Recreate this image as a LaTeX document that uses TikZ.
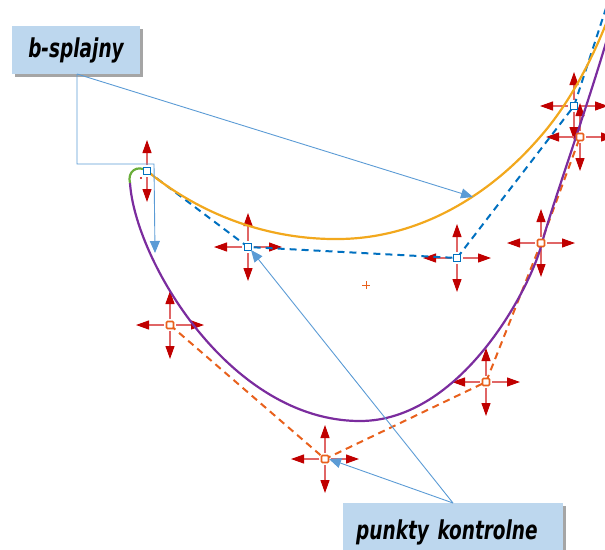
\documentclass[tikz,border=0pt]{standalone}
\usepackage{fontspec}
\newfontfamily\labfont[FakeStretch=0.79]{DejaVu Sans Condensed Bold Oblique}
\usetikzlibrary{calc,shadows,arrows.meta}
\definecolor{boxfill}{HTML}{BDD7EE}
\definecolor{conn}{HTML}{5B9BD5}
\definecolor{curvA}{HTML}{F2A81D}
\definecolor{curvB}{HTML}{7B2C9E}
\definecolor{curvG}{HTML}{6AAE3A}
\definecolor{polyA}{HTML}{0070C0}
\definecolor{polyB}{HTML}{E8601C}
\definecolor{hred}{HTML}{C00000}
\definecolor{hshaft}{HTML}{E06666}
\tikzset{
  lbox/.style={fill=boxfill, inner sep=0pt, font=\labfont\fontsize{26}{29}\selectfont,
    drop shadow={shadow xshift=3pt, shadow yshift=-3pt, fill=black!70, opacity=.5}},
  connline/.style={conn, line width=0.9pt},
  conntip/.style={connline, -{Triangle[length=12pt,width=10pt]}},
  shaft/.style={hshaft, line width=1.1pt, -{Triangle[length=13pt,width=9pt,color=hred]}},
  bpt/.style={draw=polyA, fill=white, line width=1.6pt, minimum size=7pt, inner sep=0pt},
  opt/.style={draw=polyB, fill=white, line width=1.6pt, minimum size=7pt, inner sep=0pt, rounded corners=1pt},
  polyline/.style={line width=2pt, dash pattern=on 7pt off 5pt},
  curve/.style={line width=2.2pt},
}
\newcommand\hndfour[1]{%
  \foreach \dx/\dy in {1/0,-1/0,0/1,0/-1}{%
    \draw[shaft] ($(#1)+(6*\dx,6*\dy)$) -- ($(#1)+(34*\dx,34*\dy)$);}}
\newcommand\hndtwo[1]{%
  \foreach \dx/\dy in {0/1,0/-1}{%
    \draw[shaft] ($(#1)+(6*\dx,6*\dy)$) -- ($(#1)+(31*\dx,31*\dy)$);}}
\begin{document}
\begin{tikzpicture}[x=1pt,y=-1pt]
\useasboundingbox (0,0) rectangle (605,549);
% control point positions
\coordinate (b0) at (147,171);
\coordinate (b1) at (248,247);
\coordinate (b2) at (457,258);
\coordinate (b3) at (574,106);
\coordinate (bend) at (612,-10);
\coordinate (o0) at (170,325);
\coordinate (o1) at (325,459);
\coordinate (o2) at (486,382);
\coordinate (o3) at (541,243);
\coordinate (o4) at (580,137);
% handles
\hndtwo{b0}
\hndfour{b1}\hndfour{b2}\hndfour{b3}
\hndfour{o0}\hndfour{o1}\hndfour{o2}\hndfour{o3}\hndfour{o4}
% control polygons
\draw[polyline, polyA] (b0) -- (b1) -- (b2) -- (b3) -- (bend);
\draw[polyline, polyB] (o0) -- (o1) -- (o2) -- (o3) -- (o4);
% curves
\draw[curve, curvA] (147,171) .. controls (210,222) and (280,240) .. (340,239)
  .. controls (420,238) and (490,195) .. (540,137)
  .. controls (570,103) and (595,55) .. (612,8);
\draw[curve, curvB] (130,183) .. controls (135,260) and (230,421) .. (360,421)
  .. controls (460,421) and (530,290) .. (542,243)
  .. controls (552,205) and (590,100) .. (612,22);
\draw[curve, curvG] (130,183) .. controls (127,172) and (137,164) .. (147,171);
\fill[hred] (141,178) circle (1.2pt);
\draw[polyB, line width=1pt] (362,285) -- (370,285) (366,281) -- (366,289);
% control points
\node[bpt] (B0) at (b0) {};
\node[bpt] (B1) at (b1) {};
\node[bpt] (B2) at (b2) {};
\node[bpt] (B3) at (b3) {};
\node[opt] (O0) at (o0) {};
\node[opt] (O1) at (o1) {};
\node[opt] (O2) at (o2) {};
\node[opt] (O3) at (o3) {};
\node[opt] (O4) at (o4) {};
% labels
\node[lbox, minimum width=128pt, minimum height=48pt] (lab1) at (76,50) {b-splajny};
\node[lbox, anchor=north west, minimum width=220pt, minimum height=58pt, text width=194pt, align=left] (lab2) at (343,503) {punkty kontrolne};
% connectors
\coordinate (c1) at (77,74);
\coordinate (tipA) at (473,197);
\coordinate (tipB) at (155,253);
\coordinate (c2) at (453,503);
\draw[conntip] (c1) -- (tipA);
\draw[conntip] (c1) -- (77,164) -- (154,164) -- (tipB);
\draw[conntip] (c2) -- ($(B1)+(3,3)$);
\draw[conntip] (c2) -- ($(O1)+(4,0)$);
\end{tikzpicture}
\end{document}
